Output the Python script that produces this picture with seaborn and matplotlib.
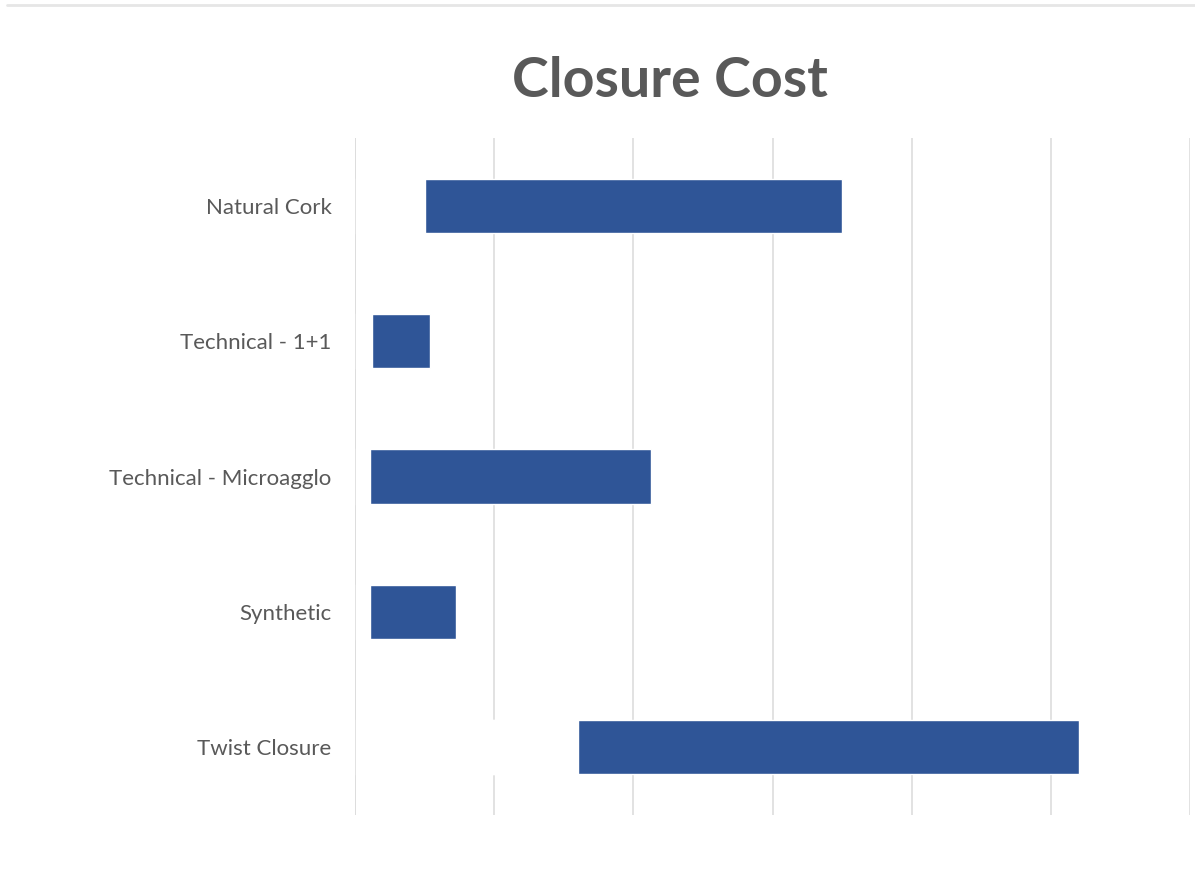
import matplotlib
matplotlib.use("Agg")
import matplotlib.pyplot as plt
from matplotlib.lines import Line2D
import seaborn as sns
import pandas as pd

# Cost range per closure type (low and high estimates)
closures = ["Natural Cork", "Technical - 1+1", "Technical - Microagglo", "Synthetic", "Twist Closure"]
cost_low = [0.10, 0.025, 0.022, 0.022, 0.32]
cost_high = [0.70, 0.108, 0.425, 0.145, 1.04]
grid_ticks = [0.0, 0.2, 0.4, 0.6, 0.8, 1.0, 1.2]

df = pd.DataFrame({"closure": closures, "low": cost_low, "high": cost_high})

sns.set_theme(style="white")
plt.rcParams["font.family"] = ["Lato", "DejaVu Sans"]

bar_blue = "#2F5597"
text_grey = "#595959"
grid_grey = "#DDDDDD"

fig = plt.figure(figsize=(11.95, 8.72), dpi=100)
ax = fig.add_axes([0.2971, 0.0654, 0.6987, 0.7763])

# Floating bars: full bar to the high value, white base up to the low value
sns.barplot(data=df, x="high", y="closure", color=bar_blue, saturation=1,
            width=0.4, orient="h", ax=ax, zorder=2)
sns.barplot(data=df, x="low", y="closure", color="white", saturation=1,
            width=0.4, orient="h", ax=ax, zorder=3)

ax.set_xlim(grid_ticks[0], grid_ticks[-1])
ax.set_ylim(len(closures) - 0.5, -0.5)
ax.set_xticks(grid_ticks)
ax.set_xticklabels([])
ax.xaxis.grid(True, color=grid_grey, linewidth=1.2, zorder=0)
ax.set_axisbelow(True)
ax.axvline(grid_ticks[0], color=grid_grey, linewidth=1.2, zorder=4)
for s in ax.spines.values():
    s.set_visible(False)
ax.tick_params(axis="both", length=0)
ax.tick_params(axis="y", pad=17, labelsize=16, labelcolor=text_grey)
ax.set_xlabel("")
ax.set_ylabel("")

fig.text(0.561, 0.907, "Closure Cost", ha="center", va="center",
         fontsize=40, fontweight="bold", color=text_grey)

# thin frame line along the top edge
fig.add_artist(Line2D([0.006, 1.0], [0.9945, 0.9945], transform=fig.transFigure,
                      color="#E6E6E6", linewidth=2))

fig.savefig("out.png", dpi=100, facecolor="white")
